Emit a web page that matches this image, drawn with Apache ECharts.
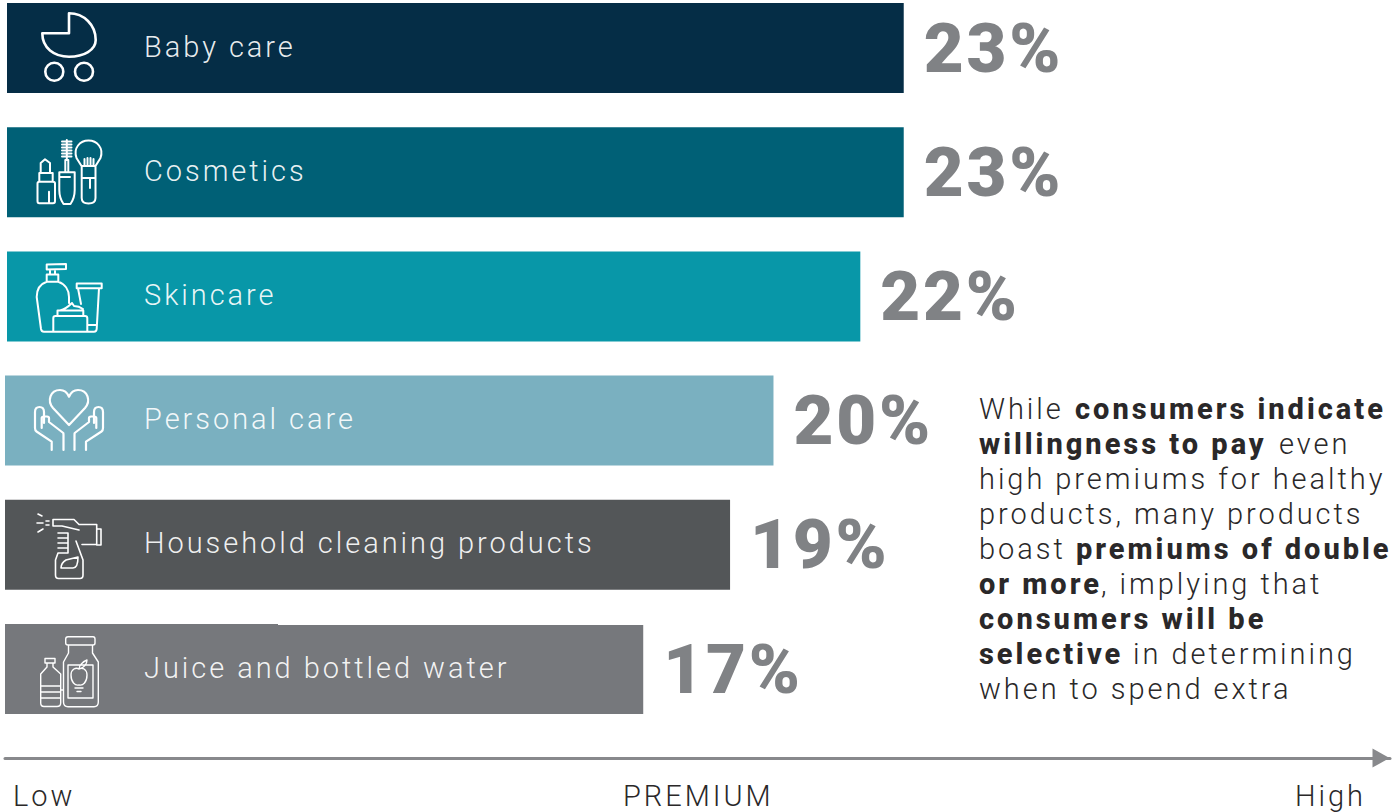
<!DOCTYPE html>
<html>
<head>
<meta charset="utf-8">
<style>
  html, body { margin: 0; padding: 0; background: #fff; }
  #chart { width: 1393px; height: 812px; }
  #chart text { letter-spacing: 0.102em; }
  #chart text[style*="800"] { letter-spacing: 0.103em; }
  #chart text[style*="900"] { letter-spacing: 0.04em; }
</style>
<script src="https://cdn.jsdelivr.net/npm/echarts@6/dist/echarts.min.js"></script>
</head>
<body>
<div id="chart"></div>
<script>
// Premium by product category
const categories = ['Baby care', 'Cosmetics', 'Skincare', 'Personal care', 'Household cleaning products', 'Juice and bottled water'];
const premiums = [23, 23, 22, 20, 19, 17];
const barColors = ['#052d46', '#006076', '#0897a8', '#7ab0c0', '#535658', '#76787c'];
const axisWords = ['Low', 'PREMIUM', 'High'];

const INK = '#2a2829';
const BODY = '300 29px Roboto';
const BOLD = '800 29px Roboto';

// Line icons, one path per category
const iconPaths = {
  stroller: 'M42.3 33.3H69V13.3C84 13.3 95.7 25 95.7 40C95.7 50 84 56.7 69 56.7C54 56.7 42.3 48 42.3 33.3Z' +
    'M63.3 71.7A9 9 0 1 1 45.3 71.7A9 9 0 1 1 63.3 71.7Z M93 71.7A9 9 0 1 1 75 71.7A9 9 0 1 1 93 71.7Z',
  cosmetics: 'M37.5 183.5Q37.5 181.7 39.3 181.7H53Q55 181.7 55 183.5V201Q55 203.3 53 203.3H39.3Q37.5 203.3 37.5 201Z' +
    'M49 191.7V203M39.3 181.7V173H52.7V181.7M40.7 173V163L45 159.3L50 163V173' +
    'M59.3 172.3H74.7V190Q74.7 198 70.5 204H63.5Q59.3 198 59.3 190ZM59.3 177H70' +
    'M65.3 172.3V160H68.3V172.3M66.8 160V140M62 141.5H71.5M62 144.5H71.5M62 147.5H71.5M62 150.5H71.5M62 153.5H71.5M62 156.5H71.5' +
    'M81.7 166V198Q81.7 203.5 88.5 203.5Q95.5 203.5 95.5 198V166M81.7 178H95.5M90 178V188' +
    'M81.5 166L76.5 158C73 148 80 140.5 88.5 140.5C97 140.5 104 148 100.5 158L95.5 166ZM84.5 165V159M87.5 165V158M90.5 165V158M93.5 165V159',
  skincare: 'M46.7 264.5L66 264V269L46.7 269.5ZM50 269.5V274.5H55V269.5M46.7 281.7V274.5H58.3V281.7Z' +
    'M46.7 281.7C40 284 36.7 290 36.7 297L41 329Q41.5 331.7 44 331.7H94Q96.5 331.7 96.7 329L99 288.3' +
    'M58.3 281.7C65 284 69 290 69 297V303' +
    'M53.3 331.7V318Q53.3 316 55.5 316H85Q87.3 316 87.3 318V331.7M57.5 316V310.5H83.3V316M60 310.5Q66 309 72 303L74 306Q79 306 83 309' +
    'M76.7 283.5H101.7V288.3H76.7ZM78 288.3L81 304M88 325H97',
  hands: 'M69 425L53 408C47 401 50 390 60 390C64 390 67 392 69 396.7C71 392 74 390 78 390C88 390 91 401 85 408Z' +
    'M51.7 450V441.7L36.5 431.5Q35 430.5 35 428V412Q35 407 39.5 407Q44 407 44 412V423M41.7 428V418Q41.7 416.5 44 416.5H47Q49 416.5 49 418V422L63.3 433Q63.5 433.5 63.5 435V450' +
    'M86 450V441.7L101.5 431.5Q103 430.5 103 428V412Q103 407 98.5 407Q94 407 94 412V423M96.3 428V418Q96.3 416.5 94 416.5H91Q89 416.5 89 418V422L74.7 433Q74.5 433.5 74.5 435V450',
  spray: 'M37 523H43M38 514L42 516M38 532L43 529M46 521H49M46 525H49' +
    'M53 519.5H74L79 524.5H96.7V544.5H82M96.7 529H101V545H96.7M53 519.5V526H62L79 530' +
    'M58 533H68V553H58M58 538H68M58 543H68M58 548H68' +
    'M58 553L55.5 560V575Q55.5 578.5 58.5 578.5H80Q83 578.5 83 575V560L76 541M61 568Q61 563 66 560L78 557Q78 568 73 568Z',
  bottles: 'M65.7 639Q65.7 636.7 68 636.7H93Q95 636.7 95 639V643Q95 645 93 645H68Q65.7 645 65.7 643Z' +
    'M68.5 645V653L63.5 662V702Q63.5 706.7 68 706.7H94Q98.3 706.7 98.3 702V662L92.5 653V645' +
    'M68 665H93V698H68ZM71 675C71 669 76 667 79 669C82 667 87 669 87 675C87 682 83 686 79 685C75 686 71 682 71 675Z' +
    'M79 669C79 666 82 662 87 660C87 664 84 668 79 669ZM75 688H83M77 691.5H81' +
    'M45 658.5H55V663H45ZM47 663V667L40.7 674V703Q40.7 706.5 44 706.5H57Q60.7 706.5 60.7 703V674L53 667V663' +
    'M40.7 686H60M40.7 692H60M40.7 698H60M60.7 690H63.5'
};
const iconNames = Object.keys(iconPaths);
iconNames.forEach(function (name) {
  echarts.graphic.registerShape(name, echarts.graphic.extendPath(iconPaths[name], {}));
});
const iconWeights = { stroller: 2.6, cosmetics: 2, skincare: 2, hands: 2.2, spray: 1.6, bottles: 1.4 };

// Paragraph beside the bars, set line by line as plain and bold runs
const noteRuns = [
  [979, 409, 'While', false], [1075, 409, 'consumers indicate', true],
  [979, 444, 'willingness to pay', true], [1279, 444, 'even', false],
  [979, 479, 'high premiums for healthy', false],
  [979, 514, 'products, many products', false],
  [979, 549, 'boast', false], [1076, 549, 'premiums of double', true],
  [979, 584, 'or more', true], [1101, 584, ', implying that', false],
  [979, 619, 'consumers will be', true],
  [979, 654, 'selective', true], [1133, 654, 'in determining', false],
  [979, 689, 'when to spend extra', false]
];

function textEl(x, y, text, font, align) {
  return {
    type: 'text', z: 10, silent: true,
    style: { x: x, y: y, text: text, font: font, fill: INK, align: align || 'left', verticalAlign: 'middle' }
  };
}

const graphics = [];
// The upper three bars start slightly further in than the lower three
graphics.push({ type: 'rect', z: 10, silent: true, shape: { x: 0, y: 0, width: 7, height: 350 }, style: { fill: '#fff' } });
// The last bar's top edge steps down one pixel part way along
graphics.push({ type: 'rect', z: 10, silent: true, shape: { x: 278, y: 623.5, width: 380, height: 1.5 }, style: { fill: '#fff' } });
iconNames.forEach(function (name) {
  graphics.push({
    type: name, z: 10, silent: true,
    style: { fill: 'none', stroke: '#fff', lineWidth: iconWeights[name], lineJoin: 'round', lineCap: 'round' }
  });
});
noteRuns.forEach(function (r) {
  graphics.push(textEl(r[0], r[1], r[2], r[3] ? BOLD : BODY));
});
graphics.push(textEl(13, 796, axisWords[0], BODY));
graphics.push(textEl(623, 796, axisWords[1], BODY));
graphics.push(textEl(1295, 796, axisWords[2], BODY));

const chart = echarts.init(document.getElementById('chart'), null, { renderer: 'svg' });
chart.setOption({
  animation: false,
  backgroundColor: '#ffffff',
  textStyle: { fontFamily: 'Roboto' },
  grid: { left: 5, top: -14.1, width: 1385, height: 745.2, containLabel: false, outerBoundsMode: 'none' },
  xAxis: {
    type: 'value', min: 2.3, max: 34.2, offset: 27,
    axisLine: {
      show: true, lineStyle: { color: '#88898c', width: 3 },
      symbol: ['none', 'triangle'], symbolSize: [19, 17], symbolOffset: [0, -9]
    },
    axisTick: { show: false }, axisLabel: { show: false }, splitLine: { show: false }
  },
  yAxis: {
    type: 'category', inverse: true, data: categories, z: 5,
    axisLine: { show: false }, axisTick: { show: false }, splitLine: { show: false },
    axisLabel: {
      inside: true, margin: 139, align: 'left', verticalAlign: 'bottom', lineHeight: 3,
      color: 'rgba(255,255,255,0.92)', fontFamily: 'Roboto', fontWeight: 300, fontSize: 29
    }
  },
  series: [{
    type: 'bar', barWidth: 90,
    data: premiums.map(function (v, i) { return { value: v, itemStyle: { color: barColors[i] } }; }),
    label: {
      show: true, position: 'right', distance: 20, formatter: '{c}%',
      color: '#808285', fontFamily: 'Roboto', fontWeight: 900, fontSize: 69
    }
  }],
  graphic: { elements: graphics }
});
</script>
</body>
</html>
